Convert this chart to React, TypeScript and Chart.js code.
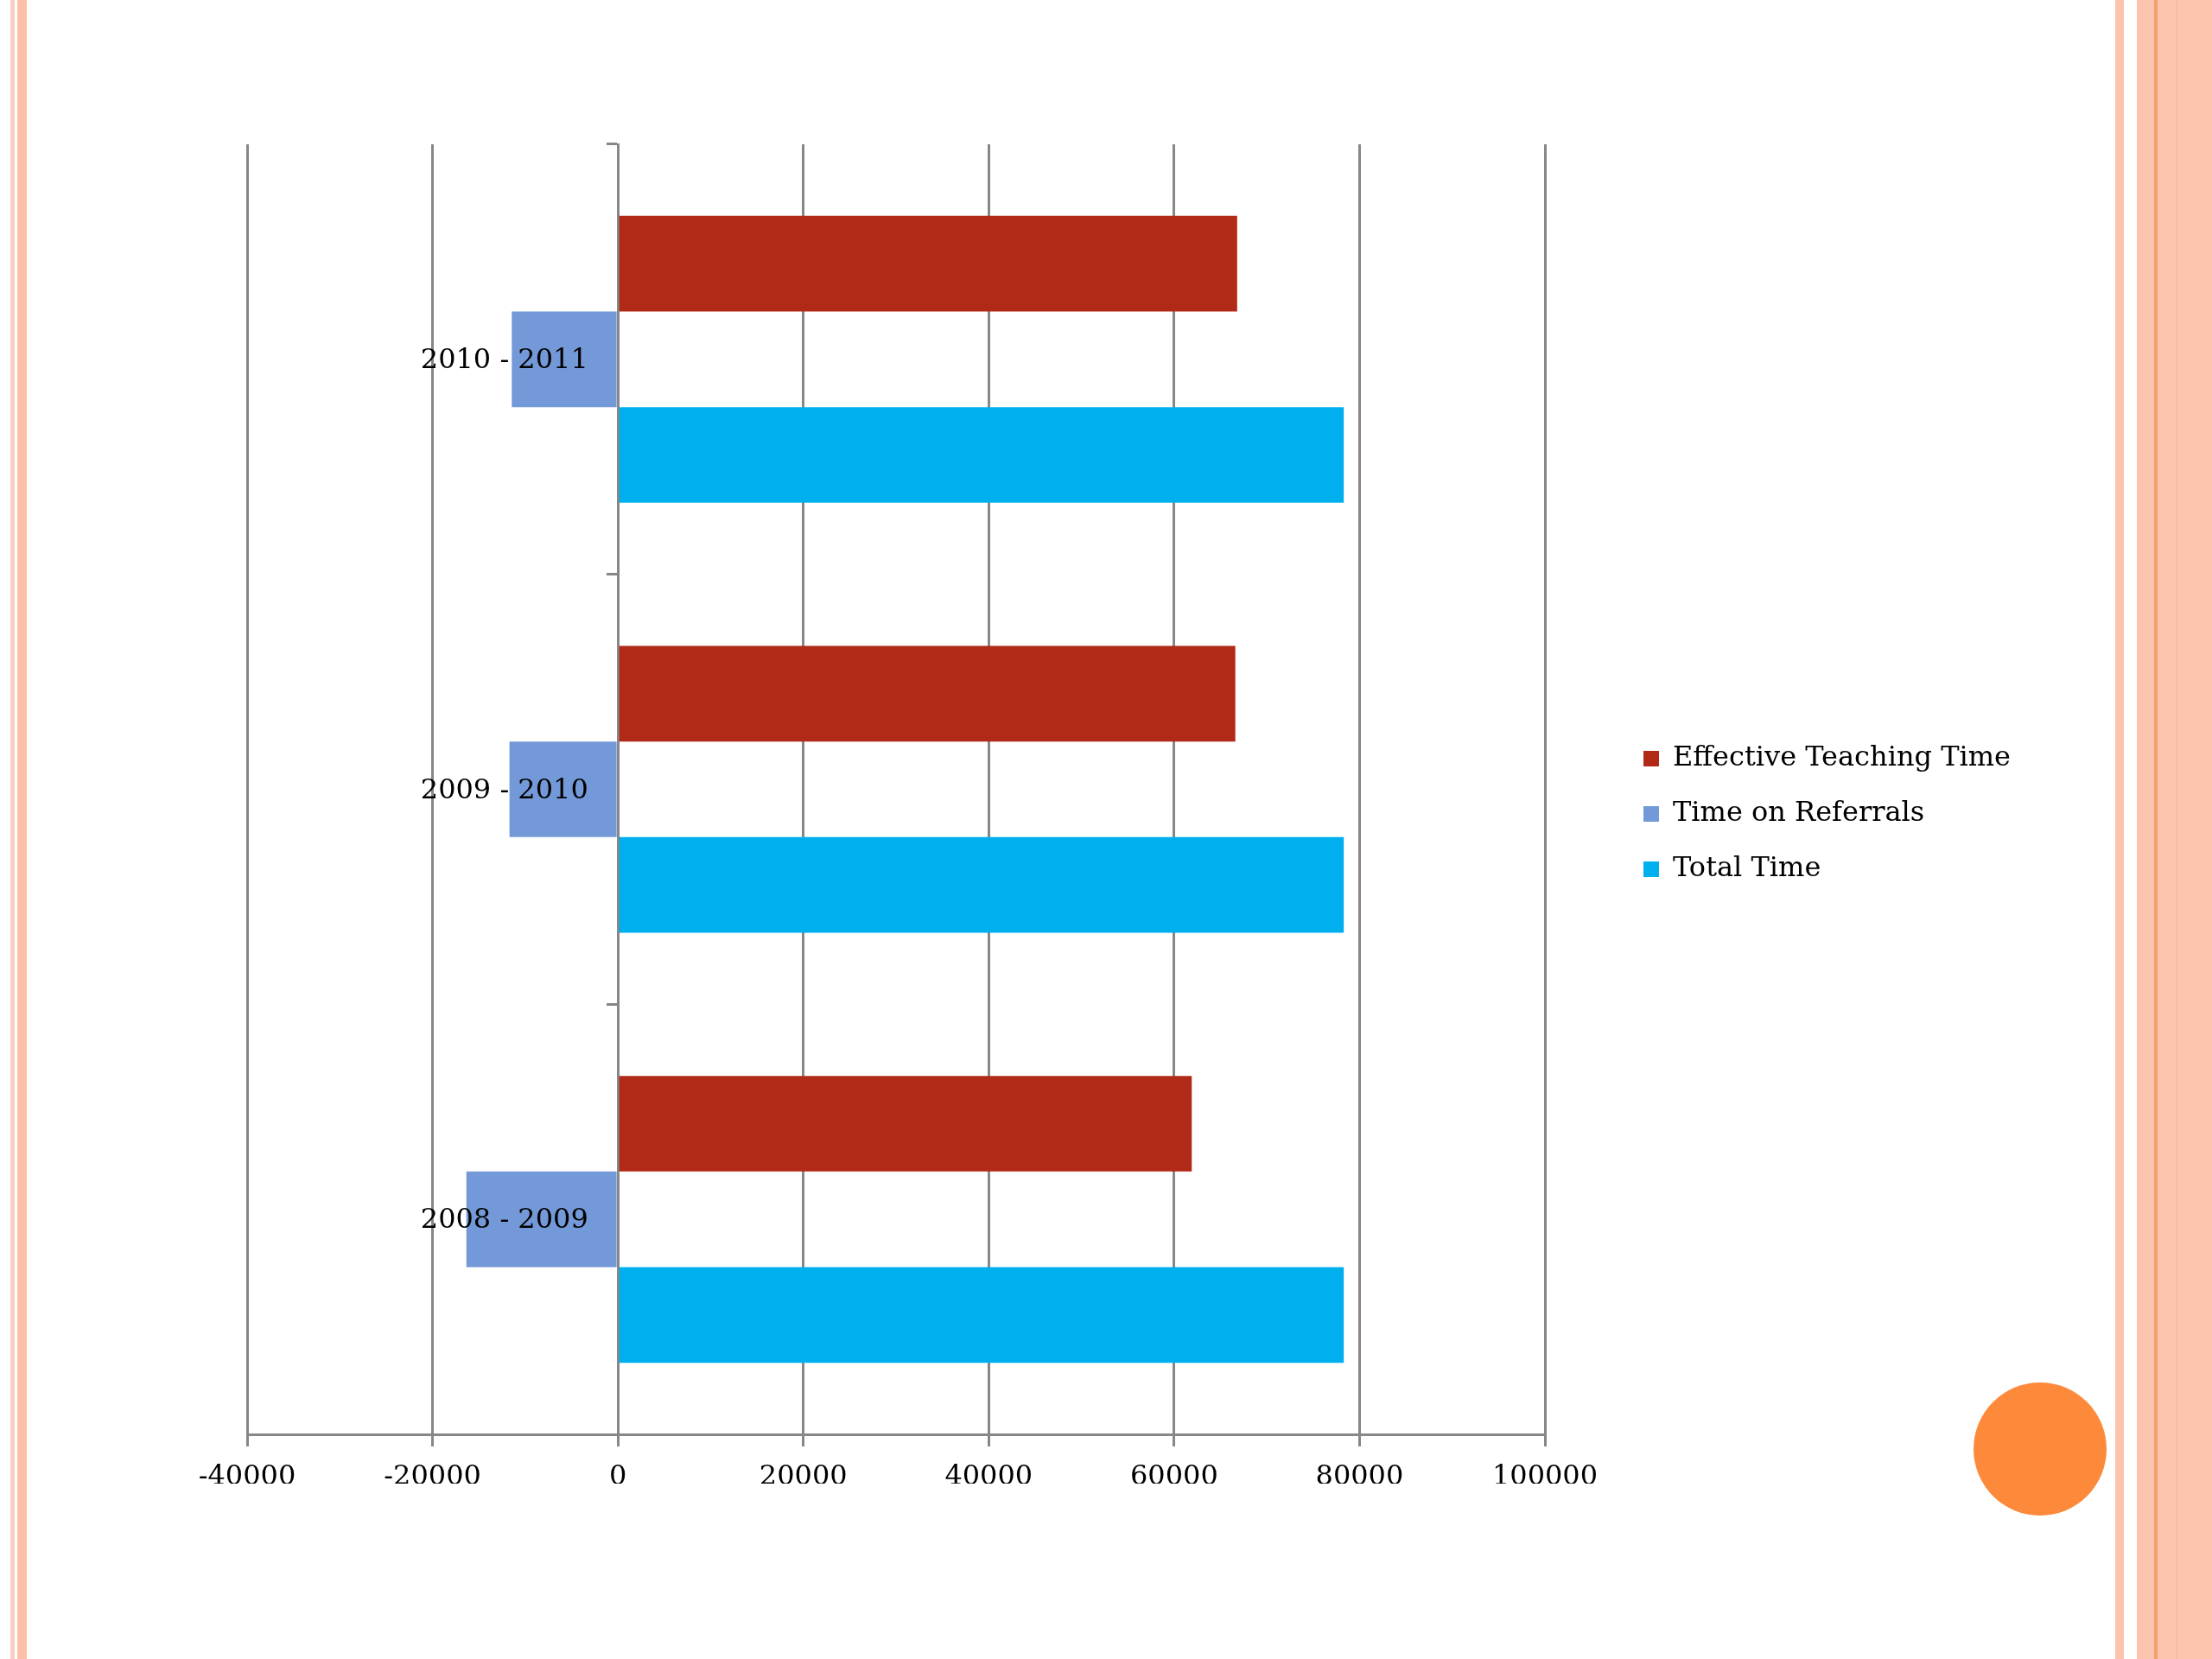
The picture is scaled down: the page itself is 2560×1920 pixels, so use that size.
import React, { useEffect, useRef } from "react";
import { Chart, registerables } from "chart.js";

Chart.register(...registerables);

const categories = ["2008 - 2009", "2009 - 2010", "2010 - 2011"];
const effectiveTeachingTime = [61900, 66600, 66800];
const timeOnReferrals = [-16350, -11700, -11450];
const totalTime = [78300, 78300, 78300];
const seriesNames = ["Effective Teaching Time", "Time on Referrals", "Total Time"];
const xMin = -40000;
const xMax = 100000;
const xStep = 20000;

const FONT = "'DejaVu Serif', 'Liberation Serif', serif";
const GRID = "#878787";
const FONT_SIZE = 32;

export default function App() {
  const ref = useRef<HTMLCanvasElement | null>(null);

  useEffect(() => {
    if (!ref.current) return;
    const ctx = ref.current.getContext("2d")!;
    ctx.font = `normal ${FONT_SIZE}px ${FONT}`;
    const textW = Math.max(...seriesNames.map((s) => ctx.measureText(s).width));
    const legendPad = 32;
    const boxW = 18;
    const legendNatural = legendPad + boxW + FONT_SIZE / 2 + textW + 10;
    const legendMax = Math.ceil(legendNatural + 4);
    const plotRight = 1788;
    const gap = 82;
    const padRight = Math.max(0, 2560 - plotRight - gap - legendNatural);

    const chart = new Chart(ref.current, {
      type: "bar",
      data: {
        labels: categories,
        datasets: [
          { label: seriesNames[0], data: effectiveTeachingTime, backgroundColor: "#B12A17", borderWidth: 0 },
          { label: seriesNames[1], data: timeOnReferrals, backgroundColor: "#7399D8", borderWidth: 0 },
          { label: seriesNames[2], data: totalTime, backgroundColor: "#00B0EE", borderWidth: 0 },
        ],
      },
      options: {
        indexAxis: "y",
        responsive: false,
        animation: false,
        devicePixelRatio: 1,
        layout: { padding: { left: 286, top: 167, right: padRight, bottom: 203 } },
        datasets: { bar: { categoryPercentage: 0.667, barPercentage: 1 } },
        scales: {
          x: {
            type: "linear",
            position: "bottom",
            min: xMin,
            max: xMax,
            ticks: {
              stepSize: xStep,
              color: "#000",
              padding: 16,
              font: { family: FONT, size: FONT_SIZE },
              callback: (v: any) => String(v),
            },
            grid: { color: GRID, lineWidth: 3, tickLength: 14, drawOnChartArea: true },
            border: { display: true, color: GRID, width: 3 },
            afterFit: (s: any) => {
              s.height = 57;
            },
          },
          y: {
            type: "category",
            reverse: true,
            offset: true,
            position: { x: 0 } as any,
            ticks: { display: false },
            grid: { display: true, drawOnChartArea: false, color: GRID, lineWidth: 3, tickLength: 12, offset: true },
            border: { display: true, color: GRID, width: 3 },
          },
          yl: {
            type: "category",
            reverse: true,
            offset: true,
            position: { x: -3200 } as any,
            ticks: { display: true, z: 5, labelOffset: 2, color: "#000", font: { family: FONT, size: FONT_SIZE } },
            grid: { display: false },
            border: { display: false },
          },
          pad: {
            type: "linear",
            position: "right",
            display: true,
            ticks: { display: false },
            grid: { display: false },
            border: { display: false },
            afterFit: (s: any) => {
              s.width = gap;
            },
          },
        } as any,
        plugins: {
          legend: {
            display: true,
            position: "right",
            maxWidth: legendMax,
            labels: {
              boxWidth: boxW,
              boxHeight: 18,
              padding: legendPad,
              color: "#000",
              font: { family: FONT, size: FONT_SIZE },
            },
          },
          tooltip: { enabled: false },
          title: { display: false },
        },
      },
    });
    return () => chart.destroy();
  }, []);

  return (
    <div
      style={{
        position: "absolute",
        left: 0,
        top: 0,
        width: 2560,
        height: 1920,
        background: "#ffffff",
        overflow: "hidden",
      }}
    >
      <div style={{ position: "absolute", left: 12, top: 0, width: 5, height: 1920, background: "#F9CFC4" }} />
      <div style={{ position: "absolute", left: 20, top: 0, width: 11, height: 1920, background: "#FDBFA8" }} />
      <div style={{ position: "absolute", left: 2448, top: 0, width: 10, height: 1920, background: "#FCC3AD" }} />
      <div style={{ position: "absolute", left: 2473, top: 0, width: 87, height: 1920, background: "#FDC5AF" }} />
      <div style={{ position: "absolute", left: 2493, top: 0, width: 4, height: 1920, background: "#F5A06E" }} />
      <div style={{ position: "absolute", left: 2518, top: 0, width: 2, height: 1920, background: "#FBBBA2" }} />
      <canvas
        ref={ref}
        width={2560}
        height={1920}
        style={{ position: "absolute", left: 0, top: 0, width: 2560, height: 1920 }}
      />
      <div
        style={{
          position: "absolute",
          left: 2284,
          top: 1600,
          width: 154,
          height: 154,
          borderRadius: "50%",
          background: "#FD8A3B",
        }}
      />
    </div>
  );
}
